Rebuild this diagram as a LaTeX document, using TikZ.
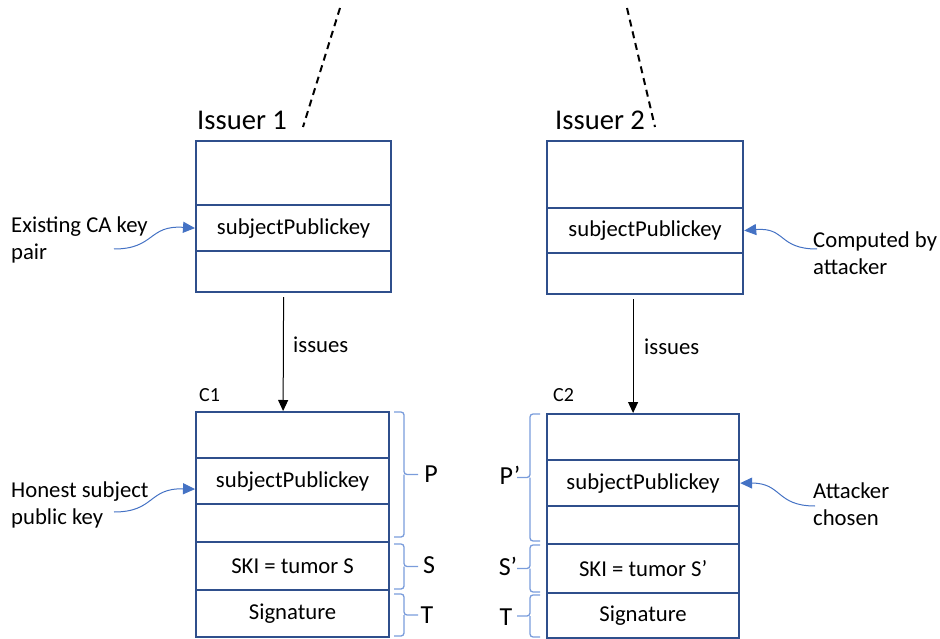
\documentclass[tikz,border=0pt]{standalone}
\usepackage{fontspec}
\setmainfont{Carlito}
\usetikzlibrary{arrows.meta}

\definecolor{boxblue}{HTML}{2F4F8C}
\definecolor{noteblue}{HTML}{4472C4}
\definecolor{braceblue}{HTML}{7A9CDB}

% right-facing brace: base x, top y, bottom y
\newcommand{\BraceR}[3]{%
  \draw[brc] (#1,#2) -| ({#1+10},{(#2+#3)/2}) -- ({#1+24},{(#2+#3)/2});
  \draw[brc] (#1,#3) -| ({#1+10},{(#2+#3)/2});}
% left-facing brace: base x, top y, bottom y
\newcommand{\BraceL}[3]{%
  \draw[brc] (#1,#2) -| ({#1-10},{(#2+#3)/2}) -- ({#1-23},{(#2+#3)/2});
  \draw[brc] (#1,#3) -| ({#1-10},{(#2+#3)/2});}

\begin{document}
\begin{tikzpicture}[x=1pt,y=-1pt,
  field/.style={draw=boxblue, line width=2.2pt, fill=white, inner sep=0pt,
    anchor=north west, font=\fontsize{22.7}{27}\selectfont},
  title/.style={anchor=base west, inner sep=0pt, font=\fontsize{28.6}{32}\selectfont},
  cert/.style={anchor=base west, inner sep=0pt, font=\fontsize{20}{24}\selectfont},
  note/.style={anchor=west, inner sep=0pt, align=left, font=\fontsize{22.7}{27}\selectfont},
  part/.style={inner sep=0pt, font=\fontsize{26}{30}\selectfont},
  issue/.style={line width=1pt, -{Triangle[width=10pt,length=11pt]}},
  pointer/.style={draw=noteblue, line width=1pt, -{Triangle[width=11pt,length=12pt]}, color=noteblue},
  brc/.style={draw=braceblue, line width=1.3pt, rounded corners=3pt},
  link/.style={line width=2pt, dash pattern=on 7pt off 5pt}]

\useasboundingbox (0,0) rectangle (940,639);

% Issuer 1
\node[field, minimum width=195pt, minimum height=64pt] (i1a) at (195,140) {};
\node[field, minimum width=195pt, minimum height=46pt] (i1b) at (195,204) {subjectPublickey};
\node[field, minimum width=195pt, minimum height=41pt] (i1c) at (195,250) {};
\node[title] (i1t) at (197,130) {Issuer 1};

% Issuer 2
\node[field, minimum width=196pt, minimum height=67pt] (i2a) at (546,140) {};
\node[field, minimum width=196pt, minimum height=45pt] (i2b) at (546,207) {subjectPublickey};
\node[field, minimum width=196pt, minimum height=41pt] (i2c) at (546,252) {};
\node[title] (i2t) at (555,130) {Issuer 2};

% Certificate C1
\node[field, minimum width=193pt, minimum height=46pt] (c1a) at (195,411) {};
\node[field, minimum width=193pt, minimum height=46pt] (c1b) at (195,457) {subjectPublickey};
\node[field, minimum width=193pt, minimum height=38pt] (c1c) at (195,503) {};
\node[field, minimum width=193pt, minimum height=48pt] (c1d) at (195,541) {SKI = tumor S};
\node[field, minimum width=193pt, minimum height=47pt] (c1e) at (195,589) {Signature};
\node[cert] (c1t) at (199,401) {C1};

% Certificate C2
\node[field, minimum width=192pt, minimum height=46pt] (c2a) at (546,413) {};
\node[field, minimum width=192pt, minimum height=46pt] (c2b) at (546,459) {subjectPublickey};
\node[field, minimum width=192pt, minimum height=38pt] (c2c) at (546,505) {};
\node[field, minimum width=192pt, minimum height=49pt] (c2d) at (546,543) {SKI = tumor S’};
\node[field, minimum width=192pt, minimum height=45pt] (c2e) at (546,592) {Signature};
\node[cert] (c2t) at (553,401) {C2};

% chains leading up to the issuers
\coordinate (d1a) at (340,8);
\coordinate (d1b) at (303,127);
\coordinate (d2a) at (627,8);
\coordinate (d2b) at (655,127);
\draw[link] (d1a) -- (d1b);
\draw[link] (d2a) -- (d2b);

% issuing
\draw[issue] ([xshift=-10pt,yshift=-4pt]i1c.south) -- ([xshift=-9.5pt]c1a.north);
\draw[issue] ([xshift=-12pt,yshift=-4pt]i2c.south) -- ([xshift=-10pt]c2a.north);
\node[anchor=base west, inner sep=0pt, font=\fontsize{22.7}{27}\selectfont] (is1) at (293,352) {issues};
\node[anchor=base west, inner sep=0pt, font=\fontsize{22.7}{27}\selectfont] (is2) at (644,354) {issues};

% annotations
\node[note] (n1) at (11,240) {Existing CA key\\pair};
\node[note] (n2) at (813,253) {Computed by\\attacker};
\node[note] (n3) at (11,505) {Honest subject\\public key};
\node[note] (n4) at (813,504) {Attacker\\chosen};
\coordinate (p1) at (114,249);
\coordinate (p2) at (817,249);
\coordinate (p3) at (114,512);
\coordinate (p4) at (815,506);
\draw[pointer] (p1) .. controls (155,249) and (148,225) .. (i1b.west);
\draw[pointer] (p2) .. controls (778,249) and (786,227) .. (i2b.east);
\draw[pointer] (p3) .. controls (155,512) and (148,488) .. ([yshift=-8pt]c1b.west);
\draw[pointer] (p4) .. controls (776,506) and (782,483) .. (c2b.east);

% field groups
\BraceR{394}{412}{537}
\BraceR{394}{544}{589}
\BraceR{394}{594}{636}
\BraceL{540}{414}{541}
\BraceL{540}{545}{592}
\BraceL{540}{595}{637}
\node[part] (lp) at (431,474) {P};
\node[part] (ls) at (429,565) {S};
\node[part] (lt) at (427,615) {T};
\node[part] (lp2) at (510,475) {P’};
\node[part] (ls2) at (508,566) {S’};
\node[part] (lt2) at (506,617) {T};

\end{tikzpicture}
\end{document}
